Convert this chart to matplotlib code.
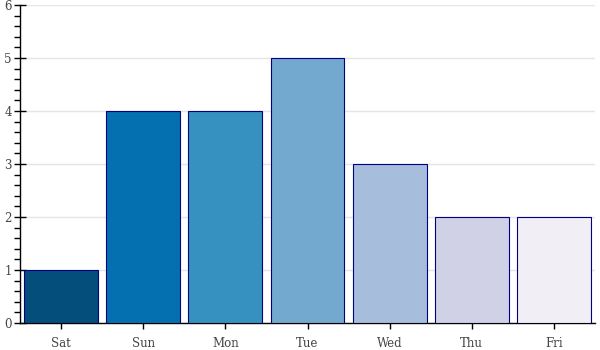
import matplotlib
matplotlib.use("Agg")
import matplotlib.pyplot as plt
from matplotlib.ticker import MultipleLocator, AutoMinorLocator

days = ["Sat", "Sun", "Mon", "Tue", "Wed", "Thu", "Fri"]
counts = [1, 4, 4, 5, 3, 2, 2]
colors = ["#034e7b", "#0570b0", "#3690c0", "#74a9cf", "#a6bddb", "#d0d1e6", "#f1eef6"]

plt.rcParams["font.family"] = ["DejaVu Serif"]

fig = plt.figure(figsize=(6, 3.5), dpi=100)
ax = fig.add_axes([20 / 600, 27 / 350, 575 / 600, 318 / 350])

x = list(range(len(days)))
ax.bar(x, counts, width=0.9, color=colors, edgecolor="#000080", linewidth=0.8, zorder=3)

ax.set_xlim(-0.5, len(days) - 0.5)
ax.set_ylim(0, 6)
ax.set_xticks(x)
ax.set_xticklabels(days)
ax.yaxis.set_major_locator(MultipleLocator(1))
ax.yaxis.set_minor_locator(AutoMinorLocator(5))

## only horizontal grid, light gray
ax.grid(axis="y", color="#e5e5e5", linewidth=1, zorder=0)
ax.set_axisbelow(True)

for side in ["top", "right"]:
    ax.spines[side].set_visible(False)
for side in ["left", "bottom"]:
    ax.spines[side].set_color("black")
    ax.spines[side].set_linewidth(1)

ax.tick_params(axis="both", which="major", direction="inout", length=8,
               width=1, color="black", labelsize=8.5, labelcolor="#444444", pad=2)
ax.tick_params(axis="y", which="minor", direction="out", length=4, width=1, color="black")
ax.tick_params(axis="x", which="major", pad=6)

fig.savefig("out.png", dpi=100)
